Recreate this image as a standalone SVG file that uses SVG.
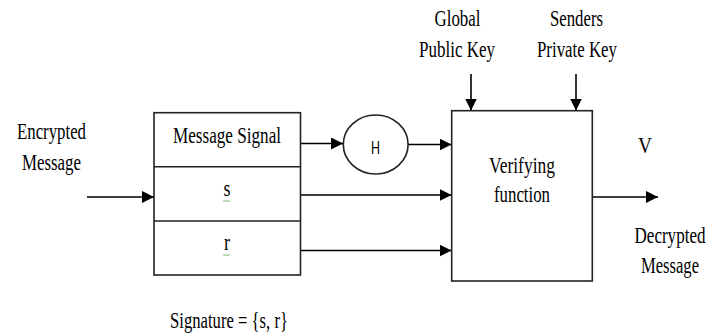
<svg xmlns="http://www.w3.org/2000/svg" width="718" height="335" viewBox="0 0 718 335">
<defs>
<style>
.t{font-family:'Liberation Serif','Times New Roman',Times,serif;font-size:23px;fill:#000;text-anchor:middle}
.h{font-family:'Liberation Sans',Arial,sans-serif;font-size:19px;fill:#000;text-anchor:middle}
.box{fill:#fff;stroke:#222;stroke-width:1.6}
.ln{stroke:#000;stroke-width:1.6;fill:none;marker-end:url(#ah)}
.sq{stroke:#3a9a3a;stroke-width:0.8;fill:none}
</style>
<marker id="ah" markerUnits="userSpaceOnUse" markerWidth="12" markerHeight="12" viewBox="0 0 12 12" refX="12" refY="6" orient="auto">
<path d="M0,0 L12,6 L0,12 Z" fill="#000"/>
</marker>
</defs>
<rect width="718" height="335" fill="#fff"/>
<g id="connectors">
<line class="ln" x1="87" y1="197" x2="154" y2="197"/>
<line class="ln" x1="301" y1="143.5" x2="343" y2="143.5"/>
<line class="ln" x1="408" y1="144.5" x2="451.5" y2="144.5"/>
<line class="ln" x1="301" y1="195" x2="451.5" y2="195"/>
<line class="ln" x1="301" y1="250.5" x2="451.5" y2="250.5"/>
<line class="ln" x1="471" y1="74" x2="471" y2="110.5"/>
<line class="ln" x1="576" y1="74" x2="576" y2="110.5"/>
<line class="ln" x1="592.5" y1="197" x2="658" y2="197"/>
</g>
<g id="input-label">
<text class="t" x="51.5" y="139" textLength="69" lengthAdjust="spacingAndGlyphs">Encrypted</text>
<text class="t" x="51.5" y="170" textLength="59" lengthAdjust="spacingAndGlyphs">Message</text>
</g>
<g id="signal-box">
<rect class="box" x="154" y="112.7" width="146.5" height="162.3"/>
<line x1="154" y1="166.7" x2="300.5" y2="166.7" stroke="#222" stroke-width="1.6"/>
<line x1="154" y1="221" x2="300.5" y2="221" stroke="#222" stroke-width="1.6"/>
<text class="t" x="227" y="142.5" textLength="108" lengthAdjust="spacingAndGlyphs">Message Signal</text>
<text class="t" x="227" y="196" textLength="7" lengthAdjust="spacingAndGlyphs">s</text>
<path class="sq" d="M223,200.5 l1,1 l1,-1 l1,1 l1,-1 l1,1 l1,-1 l1,1"/>
<text class="t" x="227" y="250" textLength="6" lengthAdjust="spacingAndGlyphs">r</text>
<path class="sq" d="M223,254.5 l1,1 l1,-1 l1,1 l1,-1 l1,1 l1,-1 l1,1"/>
</g>
<g id="signature-label">
<text class="t" x="229" y="328" textLength="118" lengthAdjust="spacingAndGlyphs">Signature = {s, r}</text>
</g>
<g id="hash">
<ellipse cx="375.7" cy="144.5" rx="32.4" ry="29.5" fill="#fff" stroke="#222" stroke-width="1.6"/>
<text class="h" x="375.5" y="154" textLength="9" lengthAdjust="spacingAndGlyphs">H</text>
</g>
<g id="verify-box">
<rect class="box" x="451.7" y="110.7" width="140.6" height="170.3"/>
<text class="t" x="522" y="173" textLength="66" lengthAdjust="spacingAndGlyphs">Verifying</text>
<text class="t" x="522" y="201.5" textLength="56" lengthAdjust="spacingAndGlyphs">function</text>
</g>
<g id="public-key">
<text class="t" x="457.5" y="26" textLength="46" lengthAdjust="spacingAndGlyphs">Global</text>
<text class="t" x="457" y="57" textLength="76" lengthAdjust="spacingAndGlyphs">Public Key</text>
</g>
<g id="private-key">
<text class="t" x="576.5" y="26" textLength="53" lengthAdjust="spacingAndGlyphs">Senders</text>
<text class="t" x="577" y="57" textLength="80" lengthAdjust="spacingAndGlyphs">Private Key</text>
</g>
<g id="output-label">
<text class="t" x="645" y="153" textLength="14" lengthAdjust="spacingAndGlyphs">V</text>
<text class="t" x="670" y="243" textLength="71" lengthAdjust="spacingAndGlyphs">Decrypted</text>
<text class="t" x="670" y="273" textLength="58" lengthAdjust="spacingAndGlyphs">Message</text>
</g>
</svg>
